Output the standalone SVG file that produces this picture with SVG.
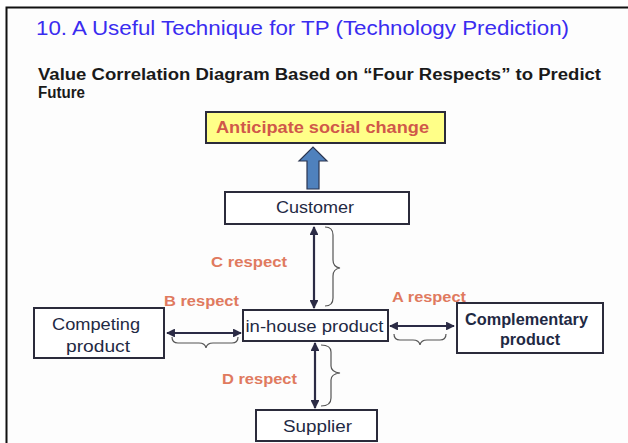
<svg xmlns="http://www.w3.org/2000/svg" width="628" height="443" viewBox="0 0 628 443">
<defs>
<style>
.box{fill:#ffffff;stroke:#2b2b3b;stroke-width:2}
.lbl{font-family:"Liberation Sans",Arial,sans-serif;font-size:16px;fill:#1f2a44;text-anchor:middle}
.red{font-family:"Liberation Sans",Arial,sans-serif;font-size:15px;font-weight:bold;fill:#e07a5f}
.con{stroke:#2b2b45;stroke-width:2.2;fill:none}
.brace{stroke:#555555;stroke-width:1.2;fill:none}
</style>
<marker id="ah" viewBox="0 0 10 10" refX="9" refY="5" markerWidth="4" markerHeight="4" orient="auto-start-reverse">
<path d="M0,0 L10,5 L0,10 z" fill="#2b2b45"/>
</marker>
</defs>
<rect x="0" y="0" width="628" height="443" fill="#ffffff"/>
<rect x="6.5" y="7.5" width="640" height="460" fill="#fdfdfd" stroke="#111111" stroke-width="2"/>
<text x="36" y="35" font-family="Liberation Sans,Arial,sans-serif" font-size="20" fill="#3a2cf0" textLength="533" lengthAdjust="spacingAndGlyphs">10. A Useful Technique for TP (Technology Prediction)</text>
<text x="38" y="80" font-family="Liberation Sans,Arial,sans-serif" font-size="16" font-weight="bold" fill="#1a1a1a" textLength="563" lengthAdjust="spacingAndGlyphs">Value Correlation Diagram Based on “Four Respects” to Predict</text>
<text x="38" y="98" font-family="Liberation Sans,Arial,sans-serif" font-size="16" font-weight="bold" fill="#1a1a1a" textLength="47" lengthAdjust="spacingAndGlyphs">Future</text>

<g id="connectors">
<line class="con" x1="314" y1="227" x2="314" y2="308" marker-start="url(#ah)" marker-end="url(#ah)"/>
<line class="con" x1="315" y1="343" x2="315" y2="408" marker-start="url(#ah)" marker-end="url(#ah)"/>
<line class="con" x1="167" y1="333" x2="241" y2="333" marker-start="url(#ah)" marker-end="url(#ah)"/>
<line class="con" x1="390" y1="326" x2="454" y2="326" marker-start="url(#ah)" marker-end="url(#ah)"/>
<path class="brace" d="M325,227 Q333,227 333,235 L333,260 Q333,267 340,268 Q333,269 333,276 L333,298 Q333,306 325,306"/>
<path class="brace" d="M321,345 Q331,345 331,352 L331,366 Q331,372 340,373 Q331,374 331,380 L331,398 Q331,406 321,406"/>
<path class="brace" d="M172,337 Q172,343 178,343 L199,343 Q205,343 206,348 Q207,343 213,343 L232,343 Q238,343 238,337"/>
<path class="brace" d="M394,334 Q394,340 400,340 L413,340 Q419,340 420,345 Q421,340 427,340 L440,340 Q446,340 446,334"/>
<path d="M307,189 L307,161 L299,161 L313,147 L327,161 L319,161 L319,189 z" fill="#4f81bd" stroke="#2b3550" stroke-width="1.2"/>
</g>

<g id="anticipate">
<rect x="206" y="112" width="239" height="31" fill="#ffff88" stroke="#2b2b3b" stroke-width="2"/>
<text x="216" y="133" font-family="Liberation Sans,Arial,sans-serif" font-size="16" font-weight="bold" fill="#d0584a" textLength="213" lengthAdjust="spacingAndGlyphs">Anticipate social change</text>
</g>
<g id="customer">
<rect class="box" x="225" y="192" width="184" height="32"/>
<text class="lbl" x="315" y="213" textLength="78" lengthAdjust="spacingAndGlyphs">Customer</text>
</g>
<g id="inhouse">
<rect class="box" x="243" y="310" width="145" height="31"/>
<text class="lbl" x="314.5" y="332" textLength="138" lengthAdjust="spacingAndGlyphs">in-house product</text>
</g>
<g id="competing">
<rect class="box" x="34" y="308" width="130" height="50"/>
<text class="lbl" x="96" y="330" textLength="88" lengthAdjust="spacingAndGlyphs">Competing</text>
<text class="lbl" x="98" y="352" textLength="64" lengthAdjust="spacingAndGlyphs">product</text>
</g>
<g id="complementary">
<rect class="box" x="457" y="303" width="146" height="50"/>
<text class="lbl" x="526.5" y="325" font-weight="bold" textLength="123" lengthAdjust="spacingAndGlyphs">Complementary</text>
<text class="lbl" x="530" y="345" font-weight="bold" textLength="60" lengthAdjust="spacingAndGlyphs">product</text>
</g>
<g id="supplier">
<rect class="box" x="256" y="410" width="121" height="31"/>
<text class="lbl" x="317.5" y="432" textLength="69" lengthAdjust="spacingAndGlyphs">Supplier</text>
</g>
<text class="red" x="211" y="267" textLength="76" lengthAdjust="spacingAndGlyphs">C respect</text>
<text class="red" x="164" y="306" textLength="75" lengthAdjust="spacingAndGlyphs">B respect</text>
<text class="red" x="392" y="302" textLength="74" lengthAdjust="spacingAndGlyphs">A respect</text>
<text class="red" x="222" y="384" textLength="75" lengthAdjust="spacingAndGlyphs">D respect</text>
</svg>
